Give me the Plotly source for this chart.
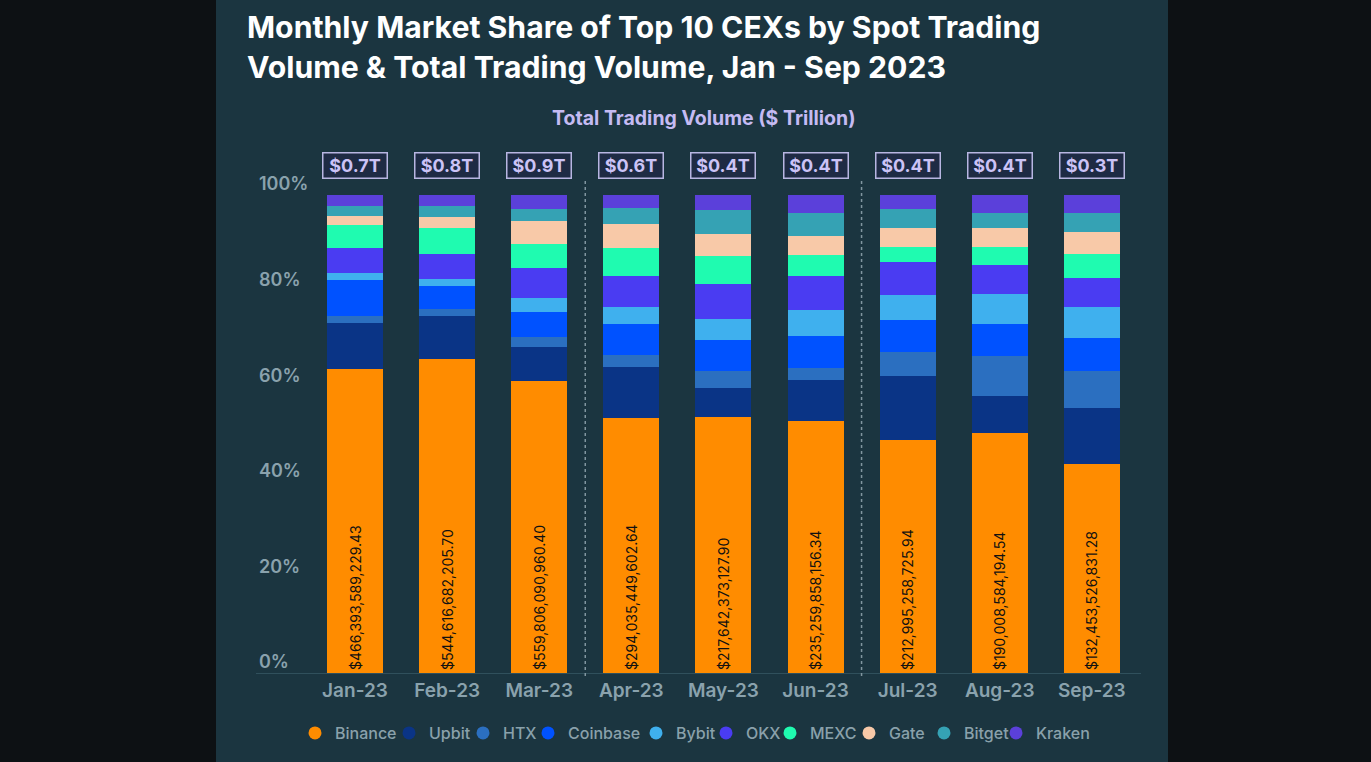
import plotly.graph_objects as go

months = ["Jan-23", "Feb-23", "Mar-23", "Apr-23", "May-23", "Jun-23", "Jul-23", "Aug-23", "Sep-23"]
exchanges = ["Binance", "Upbit", "HTX", "Coinbase", "Bybit", "OKX", "MEXC", "Gate", "Bitget", "Kraken"]

binance = [63.7, 65.6, 61.1, 53.4, 53.6, 52.8, 48.7, 50.2, 43.7]
upbit = [9.6, 9.0, 7.0, 10.6, 6.1, 8.4, 13.5, 7.8, 11.7]
htx = [1.4, 1.5, 2.2, 2.6, 3.5, 2.6, 5.0, 8.3, 7.8]
coinbase = [7.5, 4.8, 5.3, 6.4, 6.5, 6.8, 6.6, 6.8, 6.8]
bybit = [1.5, 1.5, 2.9, 3.6, 4.4, 5.4, 5.3, 6.1, 6.5]
okx = [5.3, 5.3, 6.3, 6.5, 7.3, 7.1, 6.8, 6.1, 6.1]
mexc = [4.7, 5.4, 5.0, 5.8, 5.9, 4.3, 3.3, 3.9, 5.0]
gate = [1.9, 2.2, 4.8, 5.0, 4.5, 4.0, 3.8, 3.8, 4.6]
bitget = [2.2, 2.4, 2.4, 3.3, 5.1, 4.9, 4.1, 3.3, 4.0]
kraken = [2.2, 2.3, 3.0, 2.9, 3.1, 3.7, 3.0, 3.6, 3.8]

binance_volume = [466393589229.43, 544616682205.70, 559806090960.40, 294035449602.64,
                  217642373127.90, 235259858156.34, 212995258725.94, 190008584194.54,
                  132453526831.28]
total_volume_trillion = [0.7, 0.8, 0.9, 0.6, 0.4, 0.4, 0.4, 0.4, 0.3]

series = [binance, upbit, htx, coinbase, bybit, okx, mexc, gate, bitget, kraken]
colors = ["#ff8c00", "#0a3486", "#2b6fc0", "#0052ff", "#3fb0ee",
          "#4a3cf2", "#1ffbb0", "#f8c9a8", "#35a2b4", "#5b40da"]

# pixel x of each legend symbol centre (layout only)
legend_symbol_px = [317, 411, 485, 550, 658, 728, 792, 871, 946, 1018]

W, H = 1371, 762
L, R, T, B = 256, 1141, 195, 673

pw, ph = R - L, B - T
def px_x(p):
    return (p - L) / pw
def px_y(p):
    return (B - p) / ph

fig = go.Figure()
for name, vals, col in zip(exchanges, series, colors):
    kw = {}
    if name == "Binance":
        kw = dict(text=["${:,.2f}".format(v) for v in binance_volume],
                  textposition="inside", insidetextanchor="start", textangle=-90,
                  textfont=dict(family="Inter, Roboto, sans-serif", size=14, color="#111111"),
                  constraintext="none")
    fig.add_trace(go.Bar(x=months, y=vals, name=name, marker=dict(color=col, line=dict(width=0)),
                         showlegend=False, **kw))

legend_layouts = {}
for i, (name, col) in enumerate(zip(exchanges, colors)):
    key = "legend" if i == 0 else "legend%d" % (i + 1)
    fig.add_trace(go.Scatter(x=[None], y=[None], mode="markers", name=name, legend=key,
                             marker=dict(color=col, size=13, symbol="circle")))
    legend_layouts[key] = dict(
        orientation="h", xref="paper", yref="paper",
        x=px_x(legend_symbol_px[i] - 22), xanchor="left", y=px_y(733), yanchor="middle",
        font=dict(family="Inter, sans-serif", size=16, color="#8aa1ab", weight=500),
        bgcolor="rgba(0,0,0,0)", borderwidth=0, itemwidth=30)

shapes = [
    dict(type="rect", xref="paper", yref="paper", x0=px_x(216), x1=px_x(1168),
         y0=px_y(H + 5), y1=px_y(-5), fillcolor="#1b3540", line=dict(width=0), layer="below"),
]
for xs in (2.5, 5.5):
    shapes.append(dict(type="line", xref="x", yref="paper", x0=xs, x1=xs,
                       y0=px_y(676), y1=px_y(178), line=dict(color="#8196a0", width=1.5, dash="dot")))

annotations = [
    dict(text="<b>Monthly Market Share of Top 10 CEXs by Spot Trading</b>", xref="paper", yref="paper",
         x=px_x(245), y=px_y(27), xanchor="left", yanchor="middle", showarrow=False,
         font=dict(family="Inter, sans-serif", size=30.2, color="#ffffff")),
    dict(text="<b>Volume & Total Trading Volume, Jan - Sep 2023</b>", xref="paper", yref="paper",
         x=px_x(245), y=px_y(67), xanchor="left", yanchor="middle", showarrow=False,
         font=dict(family="Inter, sans-serif", size=30.2, color="#ffffff")),
    dict(text="<b>Total Trading Volume ($ Trillion)</b>", xref="paper", yref="paper",
         x=px_x(704), y=px_y(118), xanchor="center", yanchor="middle", showarrow=False,
         font=dict(family="Inter, sans-serif", size=19.5, color="#c5bbf3")),
]
for m, t in zip(months, total_volume_trillion):
    annotations.append(dict(text="<b>${}T</b>".format(t), x=m, xref="x", yref="paper", y=px_y(165),
                            xanchor="center", yanchor="middle", showarrow=False,
                            width=58, height=19, align="center", valign="middle",
                            bgcolor="#1e2b44", bordercolor="#b8b6e2", borderwidth=1.5, borderpad=2.5,
                            font=dict(family="Inter, sans-serif", size=18, color="#cbc3f6")))

fig.update_layout(
    width=W, height=H,
    margin=dict(l=L, r=W - R, t=T, b=H - B, pad=0),
    barmode="stack", bargap=0.392,
    paper_bgcolor="#0d1114", plot_bgcolor="rgba(0,0,0,0)",
    shapes=shapes, annotations=annotations,
    showlegend=True,
    xaxis=dict(type="category", range=[-1.075, 8.534], showgrid=False, zeroline=False,
               showline=True, linecolor="#30505c", linewidth=1, ticks="",
               tickfont=dict(family="Inter, sans-serif", size=19, color="#8aa2ad", weight=600)),
    yaxis=dict(range=[0, 100], showgrid=False, zeroline=False, showline=False,
               tickvals=[0, 20, 40, 60, 80, 100], ticktext=["0%", "20%", "40%", "60%", "80%", "100%"],
               ticklabelposition="inside", ticklabeloverflow="allow", ticklabelshift=-11,
               ticklabelstandoff=0,
               tickfont=dict(family="Inter, sans-serif", size=18, color="#8aa2ad", weight=600)),
    **legend_layouts,
)

fig.write_html("out.html", config={"displayModeBar": False},
               post_script="document.body.style.margin='0px';")
